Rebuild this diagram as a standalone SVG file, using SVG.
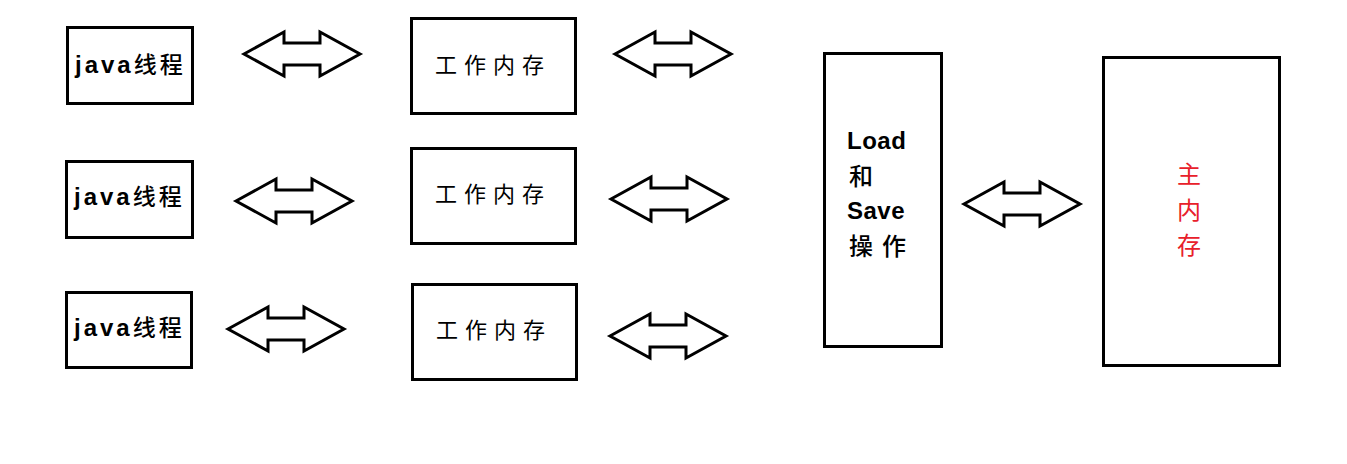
<svg xmlns="http://www.w3.org/2000/svg" xmlns:xlink="http://www.w3.org/1999/xlink" width="1347" height="464" viewBox="0 0 1347 464">
<style>
.box{fill:#fff;stroke:#000;stroke-width:3}
.arr{fill:#fff;stroke:#000;stroke-width:3;stroke-linejoin:miter}
.jt{font-family:"Liberation Sans","Noto Sans CJK SC",sans-serif;font-weight:bold;font-size:24px;letter-spacing:3px;fill:#000}
.cj{font-family:"Noto Sans CJK SC",sans-serif;font-size:23px;letter-spacing:3px;font-weight:500}
.wt{font-family:"Noto Sans CJK SC",sans-serif;font-size:22px;letter-spacing:7px;fill:#000}
.lt{font-family:"Liberation Sans","Noto Sans CJK SC",sans-serif;font-weight:bold;font-size:24px;letter-spacing:0.5px;fill:#000}
.lc{font-family:"Noto Sans CJK SC",sans-serif;font-weight:500;font-size:24px;letter-spacing:9px;fill:#000}
.mt{font-family:"Noto Sans CJK SC",sans-serif;font-size:24px;fill:#e8202a;text-anchor:middle}
</style>
<defs>
<path id="dbl" class="arr" d="M0,0 L40,-22 L40,-11 L76,-11 L76,-22 L116,0 L76,22 L76,11 L40,11 L40,22 Z"/>
</defs>
<rect width="1347" height="464" fill="#fff"/>
<g id="connectors">
<use xlink:href="#dbl" x="244" y="54"/>
<use xlink:href="#dbl" x="236" y="201"/>
<use xlink:href="#dbl" x="228" y="329"/>
<use xlink:href="#dbl" x="615" y="54"/>
<use xlink:href="#dbl" x="611" y="199"/>
<use xlink:href="#dbl" x="610" y="336"/>
<use xlink:href="#dbl" x="964" y="204"/>
</g>
<g id="thread1"><rect class="box" x="67.5" y="27.5" width="125" height="76"/><text class="jt" x="75" y="73">java<tspan class="cj">线程</tspan></text></g>
<g id="thread2"><rect class="box" x="66.5" y="161.5" width="126" height="76"/><text class="jt" x="74" y="205">java<tspan class="cj">线程</tspan></text></g>
<g id="thread3"><rect class="box" x="66.5" y="292.5" width="125" height="75"/><text class="jt" x="74" y="336">java<tspan class="cj">线程</tspan></text></g>
<g id="work1"><rect class="box" x="411.5" y="18.5" width="164" height="95"/><text class="wt" x="435" y="73">工作内存</text></g>
<g id="work2"><rect class="box" x="411.5" y="148.5" width="164" height="95"/><text class="wt" x="435" y="202">工作内存</text></g>
<g id="work3"><rect class="box" x="412.5" y="284.5" width="164" height="95"/><text class="wt" x="436" y="338">工作内存</text></g>
<g id="loadsave"><rect class="box" x="824.5" y="53.5" width="117" height="293"/>
<text class="lt" x="847" y="149">Load</text>
<text class="lc" x="849" y="185">和</text>
<text class="lt" x="847" y="219">Save</text>
<text class="lc" x="849" y="255">操作</text></g>
<g id="mainmem"><rect class="box" x="1103.5" y="57.5" width="176" height="308"/>
<text class="mt" x="1189" y="183">主</text>
<text class="mt" x="1189" y="219">内</text>
<text class="mt" x="1189" y="254">存</text></g>
</svg>
